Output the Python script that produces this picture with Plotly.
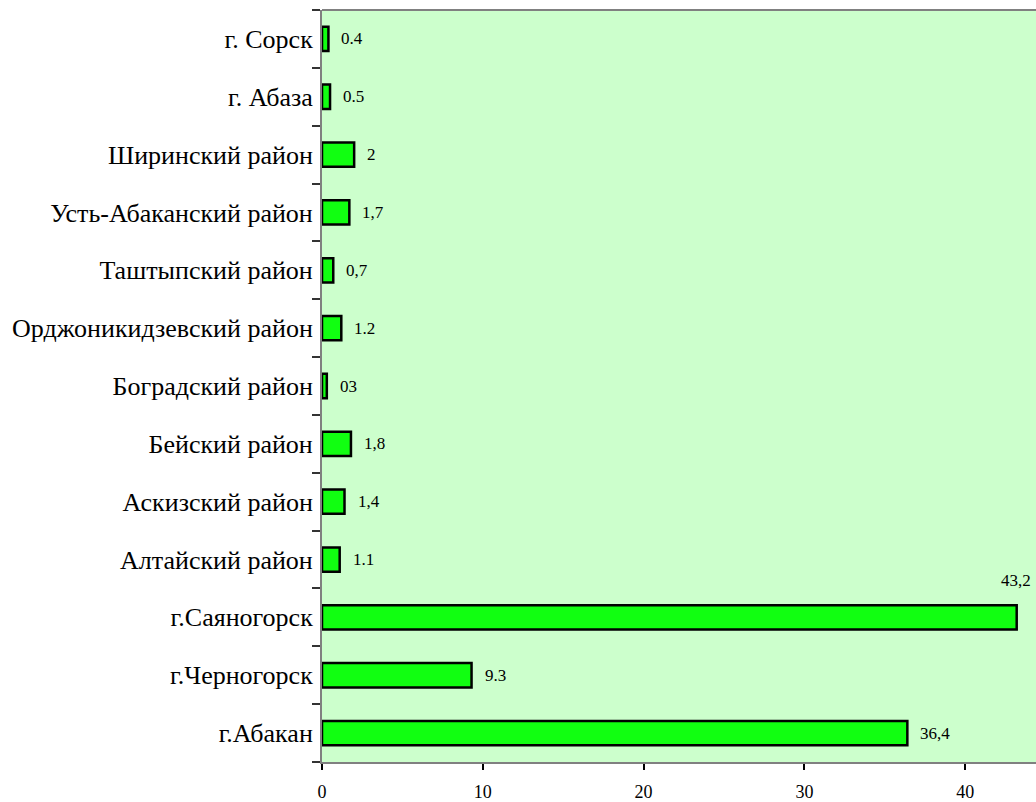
import plotly.graph_objects as go

categories = ["г.Абакан", "г.Черногорск", "г.Саяногорск", "Алтайский район",
              "Аскизский район", "Бейский район", "Боградский район",
              "Орджоникидзевский район", "Таштыпский район",
              "Усть-Абаканский район", "Ширинский район", "г. Абаза", "г. Сорск"]
values = [36.4, 9.3, 43.2, 1.1, 1.4, 1.8, 0.3, 1.2, 0.7, 1.7, 2, 0.5, 0.4]
labels = ["36,4", "9.3", "43,2", "1.1", "1,4", "1,8", "03", "1.2", "0,7",
          "1,7", "2", "0.5", "0.4"]
x_ticks = [0, 10, 20, 30, 40]

XMAX = 44.4
FONT = "Liberation Serif, Times New Roman, serif"

fig = go.Figure()
fig.add_trace(go.Bar(
    x=values, y=categories, orientation="h",
    marker=dict(color="#11FF11", line=dict(color="black", width=2.5)),
    width=0.42, hoverinfo="skip",
))

annotations = []
for c, v, t in zip(categories, values, labels):
    if v > XMAX - 2:
        annotations.append(dict(x=v, y=c, text=t, showarrow=False,
                                xanchor="right", yanchor="middle",
                                xshift=16, yshift=37,
                                font=dict(family=FONT, size=17, color="black")))
    else:
        annotations.append(dict(x=v, y=c, text=t, showarrow=False,
                                xanchor="left", yanchor="middle",
                                xshift=11, font=dict(family=FONT, size=17, color="black")))

fig.update_layout(
    width=1036, height=802,
    margin=dict(l=322, r=0, t=10, b=40),
    paper_bgcolor="white", plot_bgcolor="#CCFFCC",
    showlegend=False,
    annotations=annotations,
    font=dict(family=FONT, color="black"),
    shapes=[dict(type="line", xref="paper", yref="paper", x0=0, x1=1, y0=1, y1=1,
                 line=dict(color="#808080", width=2))],
)
fig.update_xaxes(range=[0, XMAX], tickvals=x_ticks, showgrid=False, zeroline=False,
                 showline=True, linecolor="#808080", linewidth=2,
                 ticks="outside", ticklen=6, tickwidth=2, tickcolor="black",
                 ticklabelstandoff=6,
                 tickfont=dict(family=FONT, size=18, color="black"))
fig.update_yaxes(categoryorder="array", categoryarray=categories,
                 range=[-0.5, len(categories) - 0.5],
                 showgrid=False, zeroline=False,
                 showline=True, linecolor="#808080", linewidth=2,
                 ticks="outside", tickson="boundaries", ticklen=8, tickwidth=2,
                 tickcolor="#333333", ticklabelstandoff=2,
                 tickfont=dict(family=FONT, size=26, color="black"))

fig.write_html("out.html", config={"displayModeBar": False},
               post_script="document.body.style.margin='0';document.body.style.overflow='hidden';")
